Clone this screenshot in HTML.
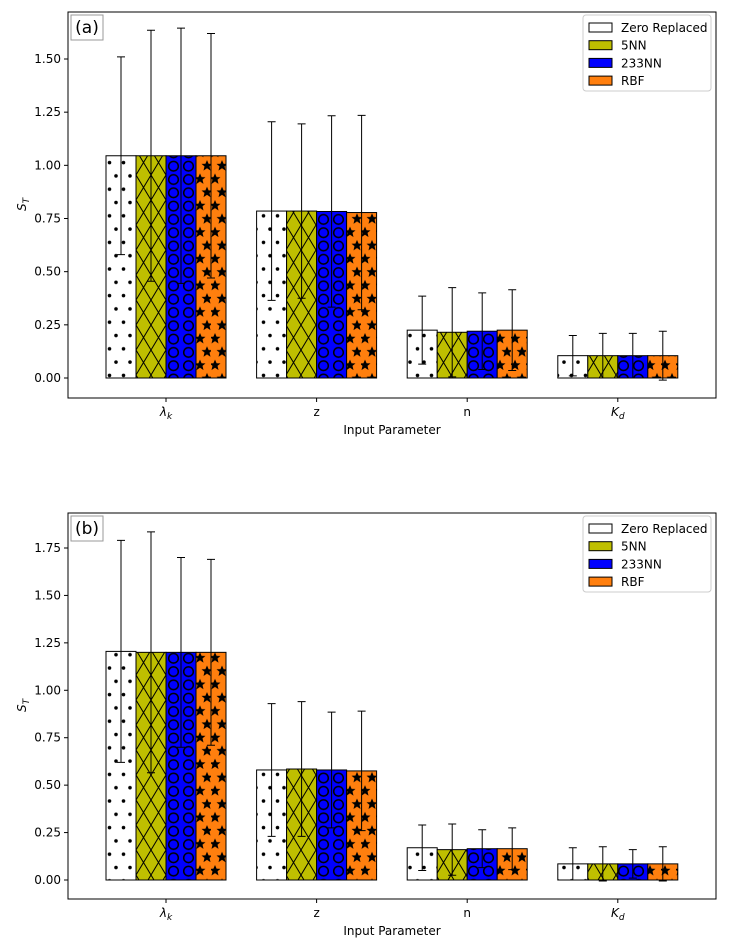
<!DOCTYPE html>
<html><head><meta charset="utf-8"><style>
html,body{margin:0;padding:0;background:#fff;}
svg{display:block;font-family:"DejaVu Sans","Liberation Sans",sans-serif;}
</style></head><body>
<svg id="chart" width="729" height="950" viewBox="0 0 729 950" xmlns="http://www.w3.org/2000/svg">
<defs>
<pattern id="pDots" patternUnits="userSpaceOnUse" width="14" height="26.6" x="106" y="0">
<rect width="14" height="26.6" fill="#fff"/>
<circle cx="3.5" cy="3" r="1.8" fill="#000"/><circle cx="10" cy="16.3" r="1.8" fill="#000"/>
</pattern>
<pattern id="pCross" patternUnits="userSpaceOnUse" width="15" height="25" x="136" y="0">
<rect width="15" height="25" fill="#bfbf00"/>
<path d="M0,0L15,25M15,0L0,25" stroke="#000" stroke-width="1"/>
</pattern>
<pattern id="pCirc" patternUnits="userSpaceOnUse" width="15" height="13.3" x="166" y="0">
<rect width="15" height="13.3" fill="#0000ff"/>
<circle cx="7.5" cy="6.6" r="4.8" fill="none" stroke="#000" stroke-width="1.5"/>
</pattern>
<pattern id="pStar" patternUnits="userSpaceOnUse" width="15" height="26.6" x="196" y="0">
<rect width="15" height="26.6" fill="#ff7f0e"/>
<g id="st"><polygon points="0,-5.5 1.6,-1.8 5.5,-1.7 2.5,0.8 3.5,5 0,2.6 -3.5,5 -2.5,0.8 -5.5,-1.7 -1.6,-1.8" fill="#000" transform="translate(11,6)"/></g>
<polygon points="0,-5.5 1.6,-1.8 5.5,-1.7 2.5,0.8 3.5,5 0,2.6 -3.5,5 -2.5,0.8 -5.5,-1.7 -1.6,-1.8" fill="#000" transform="translate(4,19.3)"/>
</pattern>
</defs>
<g id="root"></g>
</svg>
<script>
const categories = ["λk","z","n","Kd"];
const seriesNames = ["Zero Replaced","5NN","233NN","RBF"];
const valsA = [[1.045,0.785,0.225,0.105],[1.045,0.785,0.215,0.105],[1.045,0.783,0.22,0.105],[1.045,0.778,0.225,0.105]];
const errA  = [[0.465,0.42,0.16,0.095],[0.59,0.41,0.21,0.105],[0.60,0.45,0.18,0.105],[0.575,0.457,0.19,0.115]];
const valsB = [[1.205,0.58,0.17,0.085],[1.20,0.585,0.16,0.085],[1.20,0.58,0.165,0.085],[1.20,0.575,0.165,0.085]];
const errB  = [[0.585,0.35,0.12,0.085],[0.635,0.355,0.135,0.09],[0.50,0.305,0.10,0.075],[0.49,0.315,0.11,0.09]];
const ticksA = [0,0.25,0.5,0.75,1.0,1.25,1.5];
const ticksB = [0,0.25,0.5,0.75,1.0,1.25,1.5,1.75];
const fills = ["url(#pDots)","url(#pCross)","url(#pCirc)","url(#pStar)"];
const legendFills = ["#fff","#bfbf00","#0000ff","#ff7f0e"];
const NS="http://www.w3.org/2000/svg";
const root=document.getElementById('root');
function mk(tag,attrs,parent,text){const e=document.createElementNS(NS,tag);for(const k in attrs)e.setAttribute(k,attrs[k]);if(text!==undefined)e.textContent=text;(parent||root).appendChild(e);return e;}

function panel(id,label,top,bottom,y0px,ymaxV,ymaxPx,vals,errs,ticks){
  const L=68,R=716;
  const g=mk('g',{});
  
  
  const y=v=>y0px-(v/ymaxV)*(y0px-ymaxPx);
  const xc=i=>166+i*150.6;
  const bw=30;
  for(let s=0;s<4;s++){
    for(let c=0;c<4;c++){
      const x=xc(c)-60+s*bw;
      const r=mk('rect',{x:x,y:y(vals[s][c]),width:bw,height:y(0)-y(vals[s][c]),fill:fills[s],stroke:'#000','stroke-width':1},g);
      
      
    }
  }
  for(let s=0;s<4;s++){
    for(let c=0;c<4;c++){
      const cx=xc(c)-60+s*bw+bw/2;
      const hi=y(vals[s][c]+errs[s][c]),lo=y(vals[s][c]-errs[s][c]);
      const eb=mk('path',{d:`M${cx},${hi}L${cx},${lo}M${cx-4},${hi}L${cx+4},${hi}M${cx-4},${lo}L${cx+4},${lo}`,stroke:'#000','stroke-width':1,fill:'none'},g);
      
      
    }
  }
  const fr=mk('rect',{x:L,y:top,width:R-L,height:bottom-top,fill:'none',stroke:'#000','stroke-width':1},g);
  
  
  ticks.forEach(t=>{
    mk('line',{x1:L-4,x2:L,y1:y(t),y2:y(t),stroke:'#000'},g);
    const tx=mk('text',{x:L-7,y:y(t)+4,'text-anchor':'end','font-size':12},g,t.toFixed(2));
    
    
  });
  const catLabels=[['λ','k'],['z',''],['n',''],['K','d']];
  categories.forEach((c,i)=>{
    mk('line',{x1:xc(i),x2:xc(i),y1:bottom,y2:bottom+4,stroke:'#000'},g);
    const t=mk('text',{x:xc(i),y:bottom+18,'text-anchor':'middle','font-size':12,'font-style':catLabels[i][1]?'italic':'normal'},g);
    
    
    mk('tspan',{},t,catLabels[i][0]);
    if(catLabels[i][1]) mk('tspan',{dy:3,'font-size':9},t,catLabels[i][1]);
  });
  const xt=mk('text',{x:392,y:bottom+36,'text-anchor':'middle','font-size':12},g,'Input Parameter');
  
  
  const yt=mk('text',{x:0,y:0,'font-size':12,'font-style':'italic',transform:`translate(26,${(top+bottom)/2+6}) rotate(-90)`},g);
  
  
  mk('tspan',{},yt,'S');mk('tspan',{dy:3,'font-size':9},yt,'T');
  const pl=mk('rect',{x:71,y:top+3,width:32,height:25,fill:'#fff',stroke:'#999'},g);
  
  
  const plt=mk('text',{x:87,y:top+21,'text-anchor':'middle','font-size':17},g,label);
  
  
  const lg=mk('g',{},g);
  
  
  mk('rect',{x:583,y:top+3,width:128,height:76,rx:3,fill:'#fff',stroke:'#ccc'},lg);
  seriesNames.forEach((n,i)=>{
    const yy=top+15+i*17.7;
    const e=mk('g',{},lg);
    
    
    mk('rect',{x:589,y:yy-4,width:23,height:9,fill:legendFills[i],stroke:'#000'},e);
    mk('text',{x:621,y:yy+5,'font-size':12},e,n);
  });
}
panel('a','(a)',12,398,378,1.5,59,valsA,errA,ticksA);
panel('b','(b)',513,899,880,1.75,548,valsB,errB,ticksB);
</script>
</body></html>
